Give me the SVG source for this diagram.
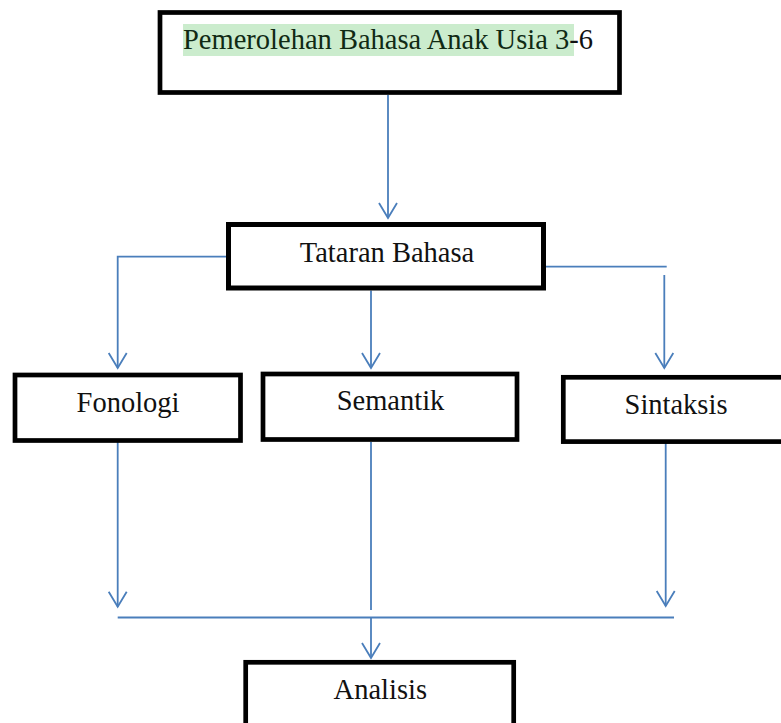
<svg xmlns="http://www.w3.org/2000/svg" width="781" height="723" viewBox="0 0 781 723">
  <style>
    .box { fill: #ffffff; stroke: #000000; stroke-width: 4.7; }
    .conn { fill: none; stroke: #4a7ebb; stroke-width: 1.8; }
    .arr { marker-end: url(#arrow); }
  </style>
  <defs>
    <marker id="arrow" markerUnits="userSpaceOnUse" markerWidth="20" markerHeight="20" refX="0" refY="0" orient="auto" overflow="visible">
      <path d="M -15,-9 L 0,0 L -15,9" fill="none" stroke="#4a7ebb" stroke-width="1.8"/>
    </marker>
  </defs>
  <rect width="781" height="723" fill="#ffffff"/>

  <g id="connectors">
    <path class="conn arr" d="M388,95 V218"/>
    <path class="conn arr" d="M228,256.7 H117.7 V368"/>
    <path class="conn arr" d="M371,290.5 V368"/>
    <path class="conn" d="M546,266.7 H666.7"/>
    <path class="conn arr" d="M664.3,275 V368"/>
    <path class="conn arr" d="M117.7,442 V606.7"/>
    <path class="conn" d="M371,442 V610"/>
    <path class="conn arr" d="M665.7,443 V606"/>
    <path class="conn" d="M117.7,617.5 H674"/>
    <path class="conn arr" d="M371,617.5 V658"/>
  </g>

  <g font-family="Liberation Serif, Times New Roman, serif" font-size="28.5" fill="#111111">
    <g id="node-pemerolehan">
      <rect class="box" x="160" y="12.5" width="459.5" height="80"/>
      <rect x="183" y="24" width="391" height="32" fill="#cbeccd"/>
      <text x="183" y="49"><tspan fill="#102a14">Pemerolehan Bahasa Anak Usia 3</tspan><tspan fill="#111111">-6</tspan></text>
    </g>

    <g id="node-tataran">
      <rect class="box" x="228.5" y="224.5" width="315" height="63.5" style="stroke-width:5"/>
      <text x="387" y="262" text-anchor="middle">Tataran Bahasa</text>
    </g>

    <g id="node-fonologi">
      <rect class="box" x="15" y="375" width="225.5" height="65.5"/>
      <text x="128" y="412" text-anchor="middle">Fonologi</text>
    </g>

    <g id="node-semantik">
      <rect class="box" x="263" y="374" width="254" height="65.5"/>
      <text x="390.5" y="410" text-anchor="middle">Semantik</text>
    </g>

    <g id="node-sintaksis">
      <rect class="box" x="563.3" y="377.3" width="240" height="64.3"/>
      <text x="676" y="414" text-anchor="middle">Sintaksis</text>
    </g>

    <g id="node-analisis">
      <rect class="box" x="245.7" y="662.3" width="268" height="100"/>
      <text x="380.3" y="699" text-anchor="middle">Analisis</text>
    </g>
  </g>
</svg>
